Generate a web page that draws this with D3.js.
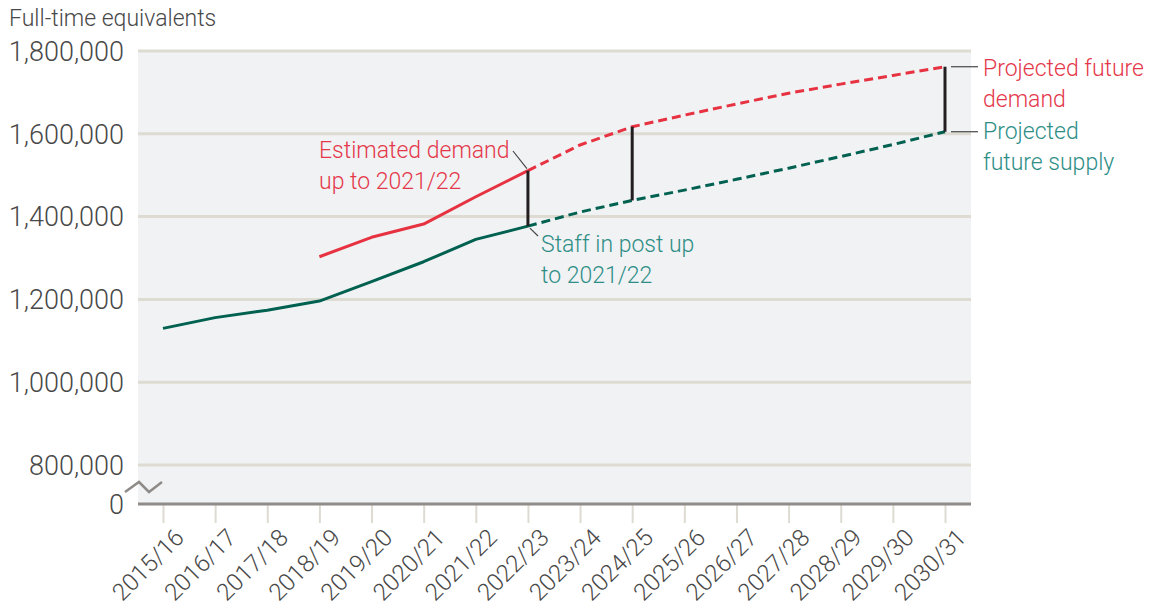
<!DOCTYPE html>
<html>
<head>
<meta charset="utf-8">
<script src="https://cdn.jsdelivr.net/npm/d3@7"></script>
<style>
  body { margin: 0; background: #fff; }
  svg text { font-family: Roboto, "Liberation Sans", sans-serif; font-weight: 300; }
</style>
</head>
<body>
<svg id="chart"></svg>
<script>
// years along the x axis
const years = ["2015/16", "2016/17", "2017/18", "2018/19", "2019/20", "2020/21", "2021/22", "2022/23",
  "2023/24", "2024/25", "2025/26", "2026/27", "2027/28", "2028/29", "2029/30", "2030/31"];

// staff in post (actual to 2022/23, projected after)
const supply = [1130000, 1156000, 1174000, 1196000, 1243000, 1291000, 1345000, 1377000,
  1411000, 1439000, 1464000, 1490000, 1517000, 1545000, 1574000, 1605000];

// demand (estimated from 2018/19, projected after 2022/23)
const demand = [null, null, null, 1303000, 1350000, 1382000, 1448000, 1511000,
  1573000, 1617000, 1645000, 1672000, 1698000, 1720000, 1741000, 1762000];

const yTicks = [800000, 1000000, 1200000, 1400000, 1600000, 1800000];
const gapYears = ["2022/23", "2024/25", "2030/31"];
const splitYear = "2022/23";

const width = 1154;
const height = 611;
const plot = { left: 138, right: 971, top: 51, bottom: 504 };

const RED = "rgb(230, 50, 65)";
const RED_TEXT = "rgb(228, 56, 74)";
const GREEN = "rgb(0, 97, 80)";
const GREEN_TEXT = "rgb(46, 142, 134)";
const GRID = "rgb(222, 219, 211)";
const AXIS = "rgb(143, 139, 136)";
const LABEL = "rgb(72, 72, 72)";

const svg = d3.select("#chart")
    .attr("width", width)
    .attr("height", height);

const x = d3.scalePoint()
    .domain(years)
    .range([163, 945]);

const y = d3.scaleLinear()
    .domain([800000, 1800000])
    .range([465, plot.top]);

svg.append("rect")
    .attr("x", plot.left)
    .attr("y", plot.top)
    .attr("width", plot.right - plot.left)
    .attr("height", plot.bottom - plot.top)
    .attr("fill", "rgb(241, 242, 244)");

// gridlines
svg.selectAll(".grid")
    .data(yTicks)
    .enter()
    .append("line")
    .attr("class", "grid")
    .attr("x1", plot.left)
    .attr("x2", plot.right)
    .attr("y1", d => y(d))
    .attr("y2", d => y(d))
    .attr("stroke", GRID)
    .attr("stroke-width", 3);

// y labels
svg.selectAll(".ylabel")
    .data(yTicks)
    .enter()
    .append("text")
    .attr("class", "ylabel")
    .attr("x", 124)
    .attr("y", d => y(d))
    .attr("dy", "0.36em")
    .attr("text-anchor", "end")
    .style("font-size", "27px")
    .attr("fill", LABEL)
    .text(d => d3.format(",")(d));

svg.append("text")
    .attr("x", 124)
    .attr("y", plot.bottom)
    .attr("dy", "0.36em")
    .attr("text-anchor", "end")
    .style("font-size", "27px")
    .attr("fill", LABEL)
    .text("0");

svg.append("text")
    .attr("x", 9)
    .attr("y", 26)
    .style("font-size", "23px")
    .attr("fill", LABEL)
    .text("Full-time equivalents");

// axis break
svg.append("path")
    .attr("d", "M125,492 L139,482 L149,492 L162,482")
    .attr("fill", "none")
    .attr("stroke", AXIS)
    .attr("stroke-width", 2.5);

// x axis
const xAxis = svg.append("g")
    .attr("transform", `translate(0,${plot.bottom})`)
    .call(d3.axisBottom(x).tickSize(19).tickPadding(0));

xAxis.select(".domain").remove();
xAxis.selectAll(".tick line")
    .attr("stroke", GRID)
    .attr("stroke-width", 2);
xAxis.selectAll(".tick text")
    .attr("y", 0)
    .attr("dy", 0)
    .attr("text-anchor", "end")
    .attr("transform", "translate(22,35) rotate(-45)")
    .style("font-size", "24px")
    .attr("fill", LABEL);

svg.append("line")
    .attr("x1", plot.left)
    .attr("x2", plot.right)
    .attr("y1", plot.bottom)
    .attr("y2", plot.bottom)
    .attr("stroke", AXIS)
    .attr("stroke-width", 3);

// lines
const splitIdx = years.indexOf(splitYear);
const line = d3.line()
    .defined(d => d.v !== null)
    .x(d => x(d.year))
    .y(d => y(d.v));

function drawSeries(values, color) {
    const pts = years.map((yr, i) => ({ year: yr, v: values[i] }));
    svg.append("path")
        .datum(pts.slice(splitIdx))
        .attr("d", line)
        .attr("fill", "none")
        .attr("stroke", color)
        .attr("stroke-width", 3)
        .attr("stroke-dasharray", "9,5");
    svg.append("path")
        .datum(pts.slice(0, splitIdx + 1))
        .attr("d", line)
        .attr("fill", "none")
        .attr("stroke", color)
        .attr("stroke-width", 3)
        .attr("stroke-linejoin", "round");
}

drawSeries(demand, RED);
drawSeries(supply, GREEN);

// gap bars
svg.selectAll(".gap")
    .data(gapYears)
    .enter()
    .append("line")
    .attr("class", "gap")
    .attr("x1", d => x(d))
    .attr("x2", d => x(d))
    .attr("y1", d => y(demand[years.indexOf(d)]))
    .attr("y2", d => y(supply[years.indexOf(d)]))
    .attr("stroke", "rgb(35, 31, 32)")
    .attr("stroke-width", 3);

// annotations
function label(lines, lx, ly, color) {
    const t = svg.append("text")
        .attr("x", lx)
        .attr("y", ly)
        .style("font-size", "23px")
        .attr("fill", color);
    lines.forEach((s, i) => {
        t.append("tspan")
            .attr("x", lx)
            .attr("dy", i === 0 ? 0 : 31)
            .text(s);
    });
}

function leader(x1, y1, x2, y2) {
    svg.append("line")
        .attr("x1", x1).attr("y1", y1)
        .attr("x2", x2).attr("y2", y2)
        .attr("stroke", "rgb(70, 70, 70)")
        .attr("stroke-width", 1.2);
}

const iSplit = years.indexOf(splitYear);
const iLast = years.length - 1;

label(["Estimated demand", "up to 2021/22"], 319, 158, RED_TEXT);
leader(513, 151, x(splitYear) - 1, y(demand[iSplit]) - 2);

label(["Staff in post up", "to 2021/22"], 541, 252, GREEN_TEXT);
leader(x(splitYear) + 2, y(supply[iSplit]) + 2, 538, 236);

label(["Projected future", "demand"], 983, 76, RED_TEXT);
leader(x(years[iLast]) + 6, y(demand[iLast]), 978, y(demand[iLast]));

label(["Projected", "future supply"], 983, 139, GREEN_TEXT);
leader(x(years[iLast]) + 6, y(supply[iLast]), 978, y(supply[iLast]));
</script>
</body>
</html>
